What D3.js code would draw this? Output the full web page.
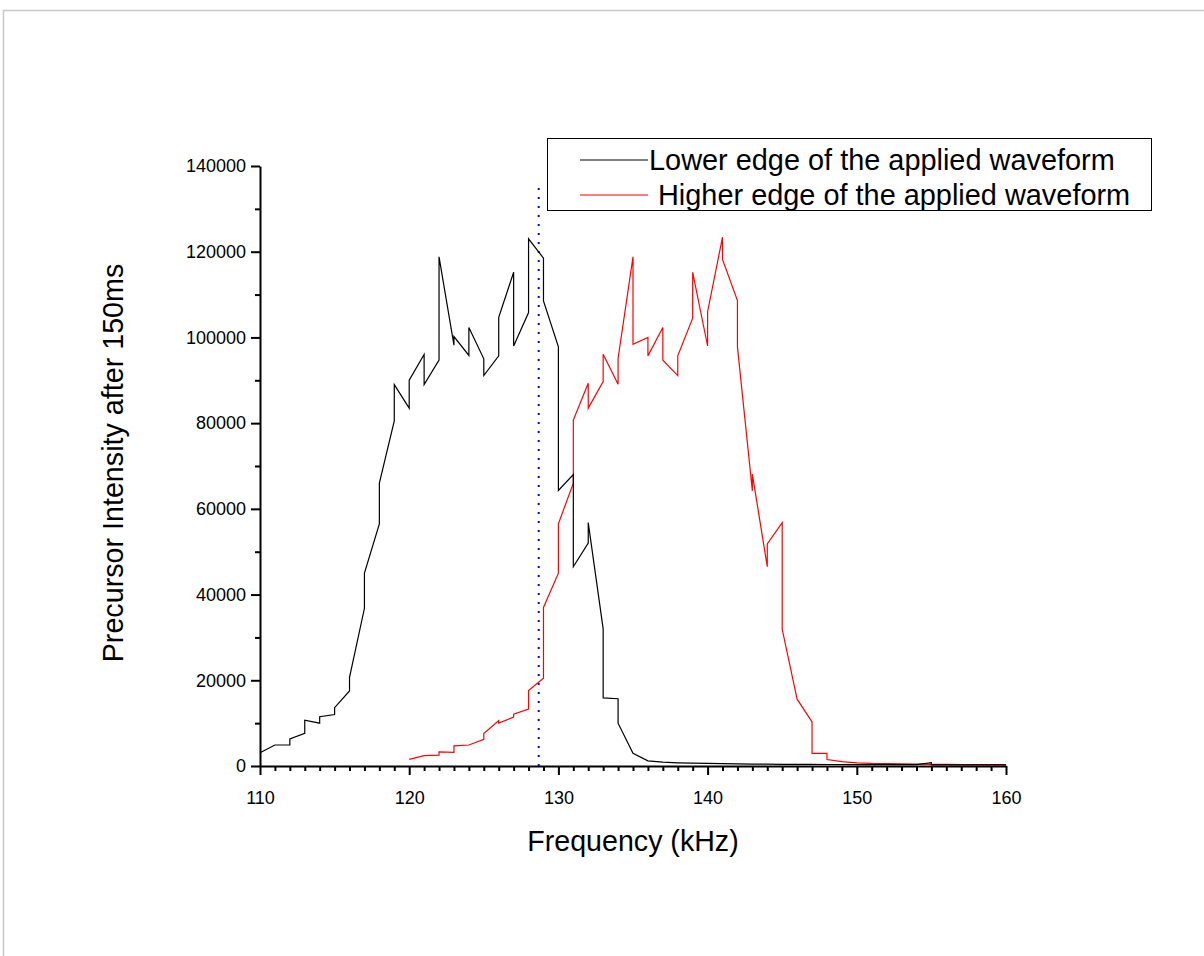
<!DOCTYPE html>
<html><head><meta charset="utf-8">
<script src="https://cdn.jsdelivr.net/npm/d3@7"></script>
<style>body{margin:0;background:#fff}svg{display:block}text{font-family:"Liberation Sans",Arial,sans-serif}</style>
</head><body>
<script>
// ---- data ----
const seriesNames = ["Lower edge of the applied waveform", "Higher edge of the applied waveform"];
const lowerFreq = [110,111,112,112,113,113,114,114,115,115,116,116,117,117,118,118,119,119,120,120,121,121,122,122,123,123,124,124,125,125,126,126,127,127,128,128,129,129,130,130,131,131,132,132,133,133,134,134,135,136,137,138,139,140,141,142,143,144,145,146,147,148,149,150,151,152,153,154,155,155,156,157,158,159,160];
const lowerVal  = [3100,4900,4900,6300,7600,10700,10000,11500,12000,13600,17500,20700,36800,45000,56500,66000,80500,89000,83500,90000,96000,89000,94700,118800,98200,100200,95800,102300,95000,91100,95700,104700,115200,98000,105800,123000,118500,108500,97800,64300,68000,46500,52000,56800,32000,15900,15700,10000,2950,1200,900,750,650,600,550,500,450,450,400,400,380,350,350,330,320,300,300,300,800,250,280,270,260,250,250];
const higherFreq = [120,121,122,122,123,123,124,125,125,126,126,127,127,128,128,129,129,130,130,131,131,132,132,133,133,134,134,135,135,136,136,137,137,138,138,139,139,140,140,141,141,142,142,143,143,144,144,145,145,146,147,147,148,148,149,150,151,152,153,154,155,156,157,158,159,160];
const higherVal  = [1550,2400,2550,3300,3200,4700,4900,6200,7600,10600,10000,11400,12100,13300,17600,20500,37000,45000,56500,66000,80700,89300,83500,89700,96100,89100,95100,118800,98400,100000,95700,102300,94700,91100,95700,104500,115200,98000,106000,123400,118200,108600,97800,64200,68100,46500,51800,56800,31900,15600,10300,2950,2950,1500,1000,750,600,550,500,450,400,380,350,330,300,300];
const markerFreq = 128.68;   // vertical dotted reference line
const markerTop = 135600;
const xMajorTicks = [110,120,130,140,150,160];
const yMajorTicks = [0,20000,40000,60000,80000,100000,120000,140000];
const xTitle = "Frequency (kHz)";
const yTitle = "Precursor Intensity after 150ms";

// ---- layout ----
const W = 1204, H = 956;
const svg = d3.select("body").append("svg").attr("width", W).attr("height", H);
svg.append("rect").attr("width", W).attr("height", H).attr("fill", "#fff");
// outer frame
svg.append("path").attr("d", `M3.5,${H} V10.5 H${W}`).attr("fill","none").attr("stroke","#c8c8c8").attr("stroke-width",1.5);

const x = d3.scaleLinear().domain([110,160]).range([260,1006]);
const y = d3.scaleLinear().domain([0,140000]).range([766,166]);

// minor ticks
const xMinor = d3.range(110,161,1).filter(v => !xMajorTicks.includes(v));
const yMinor = d3.range(0,140001,10000).filter(v => !yMajorTicks.includes(v));

const gxMinor = svg.append("g").attr("transform","translate(0,766)")
  .call(d3.axisBottom(x).tickValues(xMinor).tickSize(5).tickFormat(""));
const gyMinor = svg.append("g").attr("transform","translate(260,0)")
  .call(d3.axisLeft(y).tickValues(yMinor).tickSize(5).tickFormat(""));
const gx = svg.append("g").attr("transform","translate(0,766)")
  .call(d3.axisBottom(x).tickValues(xMajorTicks).tickSize(9).tickSizeOuter(0).tickPadding(16).tickFormat(d3.format("d")));
const gy = svg.append("g").attr("transform","translate(260,0)")
  .call(d3.axisLeft(y).tickValues(yMajorTicks).tickSize(9).tickSizeOuter(0).tickPadding(5).tickFormat(d3.format("d")));
[gxMinor,gyMinor,gx,gy].forEach(g=>{
  g.selectAll(".domain").attr("stroke","#000").attr("stroke-width",2);
  g.selectAll(".tick line").attr("stroke","#000").attr("stroke-width",2);
  g.selectAll("text").attr("font-size",18).attr("fill","#000").attr("font-family","Liberation Sans, Arial, sans-serif");
});
gxMinor.select(".domain").remove(); gyMinor.select(".domain").remove();

// reference dotted line
svg.append("line")
  .attr("x1", x(markerFreq)).attr("x2", x(markerFreq))
  .attr("y1", y(0)).attr("y2", y(markerTop))
  .attr("stroke","#0000ff").attr("stroke-width",2).attr("stroke-dasharray","2,7");

// series
const line = d3.line().x(d=>x(d[0])).y(d=>y(d[1]));
const lowerPts = lowerFreq.map((f,i)=>[f,lowerVal[i]]);
const higherPts = higherFreq.map((f,i)=>[f,higherVal[i]]);
svg.append("path").datum(higherPts).attr("d",line).attr("fill","none").attr("stroke","#ff0000").attr("stroke-width",1.2);
svg.append("path").datum(lowerPts).attr("d",line).attr("fill","none").attr("stroke","#000").attr("stroke-width",1.2);

// axis titles
svg.append("text").attr("x",633).attr("y",851).attr("text-anchor","middle")
  .attr("font-size",28.6).text(xTitle);
svg.append("text").attr("transform","translate(123,463) rotate(-90)").attr("text-anchor","middle")
  .attr("font-size",28.7).text(yTitle);

// legend
const lg = svg.append("g");
lg.append("rect").attr("x",547.5).attr("y",138.5).attr("width",604).attr("height",72)
  .attr("fill","#fff").attr("stroke","#000").attr("stroke-width",1);
const legendColors = ["#000","#ff0000"];
const legendTextX = [649, 658];
seriesNames.forEach((n,i)=>{
  const cy = 160 + i*35;
  lg.append("line").attr("x1",580).attr("x2",648).attr("y1",cy).attr("y2",cy)
    .attr("stroke",legendColors[i]).attr("stroke-width",1.2);
  lg.append("text").attr("x",legendTextX[i]).attr("y",cy+10).attr("font-size",28.9).text(n);
});
</script>
</body></html>
